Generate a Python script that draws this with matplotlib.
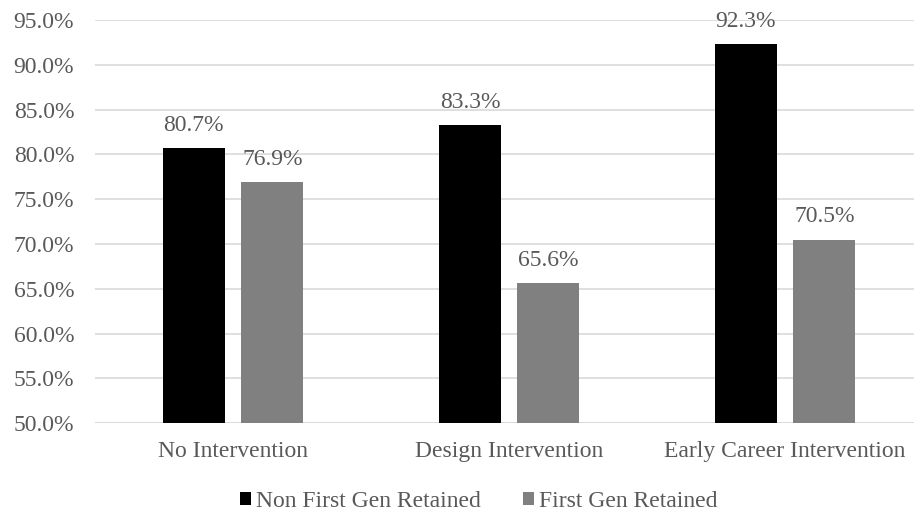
import numpy as np
import matplotlib.pyplot as plt
from matplotlib.ticker import FuncFormatter

categories = ['No Intervention', 'Design Intervention', 'Early Career Intervention']
non_first_gen = [80.7, 83.3, 92.3]
first_gen = [76.9, 65.6, 70.5]
series_names = ['Non First Gen Retained', 'First Gen Retained']

plt.rcParams['font.family'] = ['Liberation Serif', 'DejaVu Serif']
text_color = '#595959'
fs = 17

fig = plt.figure(figsize=(9.14, 5.14), dpi=100)
ax = fig.add_axes([0.104, 0.1765, 0.896, 0.7845])

x = np.arange(len(categories))
w = 0.225
off = 0.142
b1 = ax.bar(x - off, non_first_gen, w, color='black', label=series_names[0], zorder=3)
b2 = ax.bar(x + off, first_gen, w, color='#808080', label=series_names[1], zorder=3)

# value labels sit above each bar
for bars, vals in ((b1, non_first_gen), (b2, first_gen)):
    for rect, v in zip(bars, vals):
        ax.annotate(f'{v:.1f}%', (rect.get_x() + rect.get_width() / 2, v),
                    xytext=(0, 12.5), textcoords='offset points',
                    ha='center', va='baseline', fontsize=fs, color=text_color)

ax.set_ylim(50, 95)
ax.set_yticks(np.arange(50, 95.1, 5))
ax.yaxis.set_major_formatter(FuncFormatter(lambda v, p: f'{v:.1f}%'))
ax.set_xlim(-0.5, 2.467)
ax.set_xticks(x)
ax.set_xticklabels(categories)
ax.tick_params(length=0, labelsize=fs, labelcolor=text_color)
ax.tick_params(axis='x', pad=13)
ax.tick_params(axis='y', pad=15)
ax.grid(axis='y', color='#d9d9d9', linewidth=1.2, zorder=0)
for s in ax.spines.values():
    s.set_visible(False)
ax.axhline(50, color='#d9d9d9', linewidth=1.2, zorder=1)

fig.legend(handles=[b1, b2], loc='center', bbox_to_anchor=(0.524, 0.024), ncol=2,
           frameon=False, fontsize=fs, labelcolor=text_color,
           handlelength=0.47, handleheight=0.47, handletextpad=0.2,
           columnspacing=1.8, borderpad=0)

fig.savefig('out.png', dpi=100)
